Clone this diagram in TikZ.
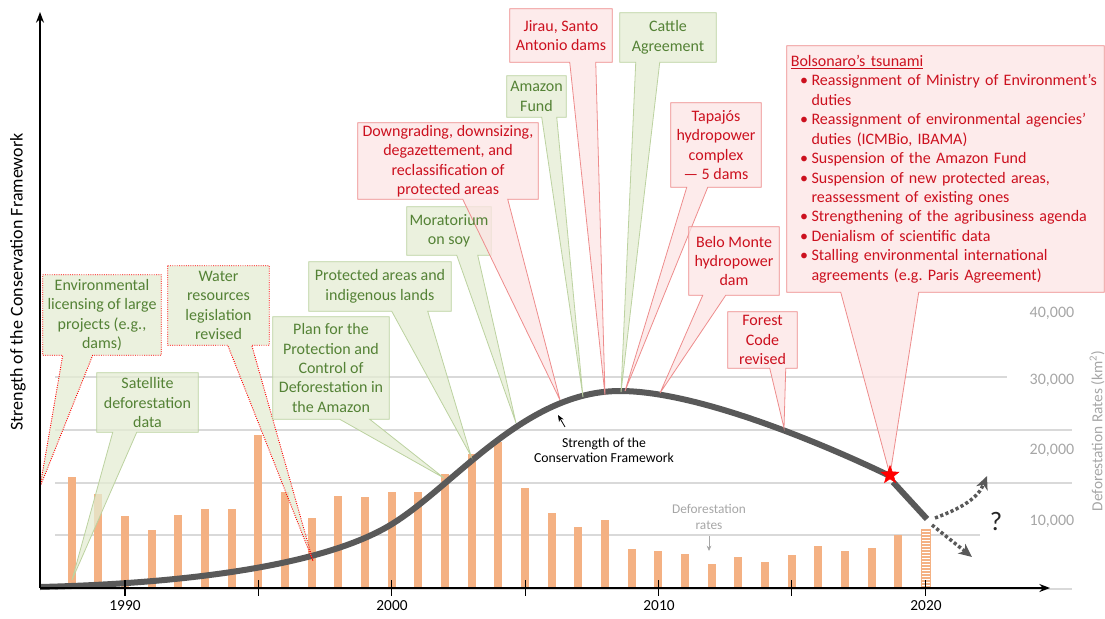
\documentclass[tikz,border=0pt]{standalone}
\usepackage{fontspec}
\setmainfont{Carlito}
\usetikzlibrary{calc,shapes.geometric,arrows.meta}

\definecolor{gtxt}{RGB}{84,130,53}
\definecolor{rtxt}{RGB}{204,16,30}
\definecolor{gfill}{RGB}{228,236,211}
\definecolor{rfill}{RGB}{252,228,228}
\definecolor{gline}{RGB}{188,210,160}
\definecolor{rline}{RGB}{238,140,140}
\definecolor{barc}{RGB}{244,177,131}
\definecolor{curvec}{RGB}{89,89,89}
\definecolor{gridc}{RGB}{217,217,217}
\definecolor{axlbl}{RGB}{166,166,166}

\pgfdeclarelayer{back}
\pgfdeclarelayer{shapes}
\pgfsetlayers{back,shapes,main}

\tikzset{
  boxdim/.style 2 args={minimum width=#1*0.75pt, minimum height=#2*0.75pt},
  gbox/.style={text=gtxt, align=center, inner sep=0pt, font=\fontsize{12}{14.6}\selectfont},
  rbox/.style={gbox, text=rtxt},
  gcall/.style={fill=gfill, draw=gline, line width=0.6pt, fill opacity=0.75},
  rcall/.style={fill=rfill, draw=rline, line width=0.6pt, fill opacity=0.75},
  dcall/.style={fill=gfill, draw=red, densely dotted, line width=0.7pt, fill opacity=0.75},
  axis/.style={line width=1.1pt, -{Stealth[length=8pt,width=6pt]}},
  curve/.style={curvec, line width=4.5pt},
  future/.style={curvec, line width=2.6pt, dash pattern=on 2.4pt off 1.8pt,
    -{Stealth[length=10pt,width=9pt,inset=3pt]}},
  ylbl/.style={text=axlbl, font=\fontsize{12}{14}\selectfont},
  yearlbl/.style={font=\fontsize{11.5}{13}\selectfont}
}

% callout: node, base start, base end, tip, style
\newcommand{\callout}[5]{%
  \begin{pgfonlayer}{shapes}
  \path[#5] (#1.north west) -- (#1.north east) -- (#1.south east)
    -- ($(#1.south west)+(#3,0)$) -- (#4) -- ($(#1.south west)+(#2,0)$)
    -- (#1.south west) -- cycle;
  \end{pgfonlayer}}
\newcommand{\bitem}{\hspace*{7pt}\makebox[8.5pt][l]{\textbullet}}
\newcommand{\bcont}{\hspace*{15.5pt}}

\begin{document}
\begin{tikzpicture}[x=0.75pt,y=-0.75pt]
  \useasboundingbox (0,0) rectangle (1105,618);

  \begin{pgfonlayer}{back}
    % grid
    \draw[gridc, line width=0.8pt] (55,377) -- (1007,377);
    \draw[gridc, line width=0.8pt] (55,430) -- (1072,430);
    \draw[gridc, line width=0.8pt] (55,483) -- (1072,483);
    \draw[gridc, line width=0.8pt] (55,535) -- (980,535);
    \draw[gridc, line width=0.8pt] (55,589) -- (1072,589);

    % deforestation bars
    \foreach \yr/\rate in {1988/21.05, 1989/17.77, 1990/13.73, 1991/11.03, 1992/13.79,
        1993/14.90, 1994/14.90, 1995/29.06, 1996/18.16, 1997/13.23, 1998/17.38,
        1999/17.26, 2000/18.23, 2001/18.17, 2002/21.65, 2003/25.40, 2004/27.77,
        2005/19.01, 2006/14.29, 2007/11.65, 2008/12.91, 2009/7.46, 2010/7.00,
        2011/6.42, 2012/4.57, 2013/5.89, 2014/5.01, 2015/6.21, 2016/7.89,
        2017/6.95, 2018/7.54, 2019/10.13}
      \fill[barc] ({125+26.67*(\yr-1990)-4},588) rectangle ({125+26.67*(\yr-1990)+4},{588-5.27*\rate});
    \fill[white] (921,588) rectangle (930,529);
    \foreach \k in {0,...,19}
      \draw[barc, line width=1.2pt] (921,{587-\k*3}) -- (930,{587-\k*3});
    \draw[barc, line width=0.5pt] (921,588) rectangle (930,529);

    % strength curve
    \draw[curve] (40,587) .. controls (200,583) and (329,563) .. (392,524)
      .. controls (455,485) and (525,391) .. (620,391)
      .. controls (700,391) and (830,447) .. (890,476);
    \draw[curve] (893,482) -- (927,519);
  \end{pgfonlayer}

  % axes
  \coordinate (origin) at (40,588);
  \coordinate (ytop) at (40,12);
  \coordinate (xend) at (1050,588);
  \draw[axis] (origin) -- (ytop);
  \draw[axis] (origin) -- (xend);
  \foreach \yr in {1990,1995,...,2020}
    \draw[line width=0.8pt] ({125+26.67*(\yr-1990)},580) -- ({125+26.67*(\yr-1990)},596);
  \node[yearlbl] (y1990) at (125,606) {1990};
  \node[yearlbl] (y2000) at (392,606) {2000};
  \node[yearlbl] (y2010) at (659,606) {2010};
  \node[yearlbl] (y2020) at (926,606) {2020};

  \node[rotate=90, font=\fontsize{13.5}{15}\selectfont] (strlbl) at (18,282) {Strength of the Conservation Framework};
  \node[ylbl] (r40) at (1052,313) {40,000};
  \node[ylbl] (r30) at (1052,380) {30,000};
  \node[ylbl] (r20) at (1052,450) {20,000};
  \node[ylbl] (r10) at (1052,521) {10,000};
  \node[rotate=90, text=axlbl, font=\fontsize{11.5}{13}\selectfont] (ratelbl) at (1097,431) {Deforestation Rates (km\textsuperscript{2})};

  % tips
  \coordinate (envlic-tip) at (40,487);
  \coordinate (satdata-tip) at (72,580);
  \coordinate (water-tip) at (313,561);
  \coordinate (ppcdam-tip) at (444,478);
  \coordinate (protareas-tip) at (471,456);
  \coordinate (soy-tip) at (516,423);
  \coordinate (pad-tip) at (560,400);
  \coordinate (amfund-tip) at (583,397);
  \coordinate (jirau-tip) at (605,395);
  \coordinate (cattle-tip) at (621,392);
  \coordinate (tapajos-tip) at (625,391);
  \coordinate (belo-tip) at (660,393);
  \coordinate (forest-tip) at (784,428);

  % callouts
  \node[gbox, boxdim={118}{80}] (envlic) at (102,315) {Environmental\\licensing of large\\projects (e.g.,\\dams)};
  \node[gbox, boxdim={101}{59}] (satdata) at (147.5,402.5) {Satellite\\deforestation\\data};
  \node[gbox, boxdim={101}{79}] (water) at (218.5,305.5) {Water\\resources\\legislation\\revised};
  \node[gbox, boxdim={116}{102}] (ppcdam) at (331,368) {Plan for the\\Protection and\\Control of\\Deforestation in\\the Amazon};
  \node[gbox, boxdim={142}{49}] (protareas) at (380,286.5) {Protected areas and\\indigenous lands};
  \node[gbox, boxdim={84}{48}] (soy) at (449,231) {Moratorium\\on soy};
  \node[rbox, boxdim={180}{76}] (pad) at (448,161) {Downgrading, downsizing,\\degazettement, and\\reclassification of\\protected areas};
  \node[gbox, boxdim={59}{41}] (amfund) at (536.5,96.5) {Amazon\\Fund};
  \node[rbox, boxdim={102}{53}] (jirau) at (561,35.5) {Jirau, Santo\\Antonio dams};
  \node[gbox, boxdim={96}{49}] (cattle) at (668,37.5) {Cattle\\Agreement};
  \node[rbox, boxdim={90}{84}] (tapajos) at (716,145) {Tapajós\\hydropower\\complex\\— 5 dams};
  \node[rbox, boxdim={90}{68}] (belo) at (734,261) {Belo Monte\\hydropower\\dam};
  \node[rbox, boxdim={69}{56}] (forest) at (762.5,340) {Forest\\Code\\revised};
  \node[rbox, boxdim={317}{246}, align=left, text width=232pt] (tsunami) at (945.5,169) {%
    \underline{Bolsonaro’s tsunami}\\
    \bitem Reassignment of Ministry of Environment’s\\
    \bcont duties\\
    \bitem Reassignment of environmental agencies’\\
    \bcont duties (ICMBio, IBAMA)\\
    \bitem Suspension of the Amazon Fund\\
    \bitem Suspension of new protected areas,\\
    \bcont reassessment of existing ones\\
    \bitem Strengthening of the agribusiness agenda\\
    \bitem Denialism of scientific data\\
    \bitem Stalling environmental international\\
    \bcont agreements (e.g.\ Paris Agreement)};

  \node[star, star points=5, star point ratio=2.4, fill=red, draw=red, minimum size=14pt, inner sep=0pt] (bstar) at (890,475) {};

  \callout{envlic}{20}{50}{envlic-tip}{dcall}
  \callout{satdata}{16}{40}{satdata-tip}{gcall}
  \callout{water}{60}{84}{water-tip}{dcall}
  \callout{ppcdam}{67}{97}{ppcdam-tip}{gcall}
  \callout{protareas}{83}{119}{protareas-tip}{gcall}
  \callout{soy}{50}{71}{soy-tip}{gcall}
  \callout{pad}{105}{150}{pad-tip}{rcall}
  \callout{amfund}{35}{50}{amfund-tip}{gcall}
  \callout{jirau}{60}{86}{jirau-tip}{rcall}
  \callout{cattle}{16}{40}{cattle-tip}{gcall}
  \callout{tapajos}{16}{37}{tapajos-tip}{rcall}
  \callout{belo}{14}{37}{belo-tip}{rcall}
  \callout{forest}{42}{58}{forest-tip}{rcall}
  \callout{tsunami}{54}{132}{bstar.center}{rcall}

  % curve and rate labels
  \node[align=center, font=\fontsize{10.3}{11.3}\selectfont] (curvelbl) at (604,450) {Strength of the\\Conservation Framework};
  \coordinate (curvept) at (558,415);
  \draw[line width=0.6pt, -{Stealth[length=5pt,width=4pt]}] ($(curvelbl.north)+(-39,-6)$) -- (curvept);
  \node[align=center, text=axlbl, font=\fontsize{10}{12}\selectfont] (deflbl) at (709,517) {Deforestation\\rates};
  \coordinate (defpt) at (709,551);
  \draw[axlbl, line width=0.6pt, -{Stealth[length=4pt,width=3.5pt]}] ($(deflbl.south)+(0,2)$) -- (defpt);

  % what comes next
  \coordinate (upstart) at (935,518);
  \coordinate (upend) at (987,476);
  \coordinate (downstart) at (932,525);
  \coordinate (downend) at (972,557);
  \draw[future] (upstart) .. controls (962,508) and (978,498) .. (upend);
  \draw[future] (downstart) -- (downend);
  \node[font=\fontsize{20}{20}\selectfont, text=black!85] (qmark) at (996,521) {?};
\end{tikzpicture}
\end{document}
